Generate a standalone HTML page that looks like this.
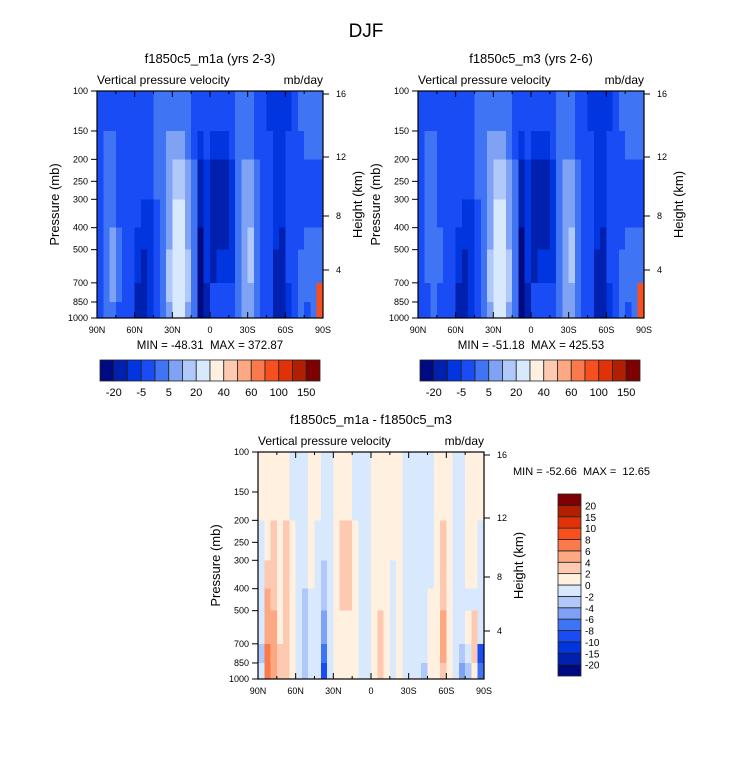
<!DOCTYPE html>
<html><head><meta charset="utf-8">
<style>
body{margin:0;background:#fff;}
svg{display:block;font-family:"Liberation Sans",sans-serif;}
.pre{white-space:pre;}
</style></head>
<body>
<svg id="fig" width="733" height="774" viewBox="0 0 733 774">
<text x="366" y="37" font-size="19" text-anchor="middle">DJF</text>
</svg>
<script>
// ---- data ----
const latLabels = ["90N","60N","30N","0","30S","60S","90S"];
const presTicks = [100,150,200,250,300,400,500,700,850,1000];
const presBands = [100,150,200,300,400,500,700,850,1000];
const heightTicks = [16,12,8,4];
const heightOffsets = [3,66,125,179];
const palette = ["#000a80","#0020b0","#0035e0","#1a4cf5","#3f74f5","#7fa2f5","#b0c8fa","#d8e8fd","#fff0e0","#fdc9b0","#fca882","#fb7a4c","#f84f1e","#e03208","#b02000","#7f0000"];
const absLabels = ["-20","-5","5","20","40","60","100","150"];
const diffLabels = ["20","15","10","8","6","4","2","0","-2","-4","-6","-8","-10","-15","-20"];
const fieldA = [
[3,3,3,3,3,3,3,3,3,4,4,4,4,4,4,3,3,3,3,3,3,3,4,4,4,3,3,2,2,2,2,3,4,4,4,4],
[3,4,4,3,3,3,3,3,3,4,4,5,5,5,4,3,2,3,2,2,2,3,4,4,4,3,3,3,2,2,3,3,3,4,4,4],
[3,4,4,3,3,3,3,3,3,4,4,5,6,6,5,4,1,2,1,1,1,2,4,5,5,4,3,3,2,2,3,3,3,3,3,3],
[3,4,4,3,3,3,3,2,2,3,4,5,7,7,5,4,1,2,1,1,1,2,4,5,5,4,3,3,2,2,3,3,3,3,3,3],
[3,4,5,4,3,3,2,2,2,3,4,5,7,7,5,4,0,2,1,1,1,2,4,5,6,4,3,3,2,1,3,3,3,4,4,4],
[3,4,5,4,3,3,2,1,2,3,4,6,7,7,6,4,0,2,1,2,2,2,4,5,6,4,3,3,1,1,3,3,4,4,4,4],
[3,4,5,4,3,3,1,1,2,3,4,6,7,7,6,4,0,1,3,3,3,3,4,5,5,4,3,3,1,1,2,3,4,4,4,12],
[3,4,4,3,3,3,1,1,2,3,4,5,7,7,5,4,0,1,3,3,3,3,4,5,5,4,3,3,1,1,2,3,4,3,4,12]];
const fieldB = [
[3,3,3,3,3,3,3,3,3,4,4,4,4,4,4,3,3,3,3,3,3,3,4,4,4,3,3,2,2,2,2,3,4,4,4,4],
[3,4,4,3,3,3,3,3,3,4,4,5,5,5,4,3,2,3,2,2,2,3,4,4,4,3,3,3,2,2,3,3,3,4,4,4],
[3,4,4,3,3,3,3,3,3,4,4,5,6,6,5,4,1,2,1,1,1,2,4,5,5,4,3,3,2,2,3,3,3,3,3,3],
[3,4,4,3,3,3,3,2,2,3,4,5,7,7,5,4,1,2,1,1,1,2,4,5,5,4,3,3,2,2,3,3,3,3,3,3],
[3,4,4,4,3,3,2,2,2,3,4,5,7,7,5,4,0,2,1,1,1,2,4,5,6,4,3,3,2,1,3,3,3,4,4,4],
[3,4,4,4,3,3,2,1,2,3,4,6,7,7,6,4,0,2,1,2,2,2,4,5,6,4,3,3,1,1,3,3,4,4,4,4],
[3,3,4,3,3,3,1,1,2,3,4,6,7,7,6,4,0,1,3,3,3,3,4,5,5,4,3,3,1,1,2,3,4,4,4,12],
[3,3,4,3,3,3,1,1,2,3,4,5,7,7,5,4,0,1,3,3,3,3,4,5,5,4,3,3,1,1,2,3,4,3,4,12]];
const fieldD = [
[8,8,8,8,8,7,7,7,8,8,7,7,8,8,8,7,7,7,8,8,8,8,8,7,7,7,7,7,8,8,8,7,7,8,8,8],
[8,8,8,8,8,7,7,7,8,8,7,7,8,8,8,7,7,7,8,8,8,8,8,7,7,7,7,7,8,8,8,7,7,8,8,8],
[7,8,9,8,9,8,7,7,8,7,7,7,8,9,9,8,7,7,8,8,8,8,8,7,7,7,7,7,8,9,8,7,7,8,8,7],
[7,9,9,8,9,8,7,7,8,7,6,7,8,9,9,8,7,7,8,8,8,7,8,7,7,7,7,7,8,9,8,7,7,8,8,7],
[7,10,9,8,9,8,7,6,7,7,6,7,8,9,9,8,7,7,8,8,8,7,8,7,7,7,7,8,8,9,8,7,7,7,7,7],
[7,10,10,8,9,8,7,6,7,7,5,7,8,8,8,8,7,7,8,9,8,7,8,7,7,7,7,8,8,10,8,7,7,8,9,7],
[6,11,10,9,9,8,7,6,7,7,4,7,8,8,8,8,7,7,8,9,8,7,8,7,7,7,7,8,8,10,8,7,6,7,9,3],
[7,11,10,9,9,8,7,6,7,7,3,7,8,8,8,8,7,7,8,9,8,7,8,7,7,7,6,8,8,9,8,7,5,6,8,4]];

const NS="http://www.w3.org/2000/svg";
const svg=document.getElementById('fig');
function mk(tag,attrs,parent){const e=document.createElementNS(NS,tag);for(const k in attrs)e.setAttribute(k,attrs[k]);(parent||svg).appendChild(e);return e;}
function txt(x,y,s,size,anchor,parent){const t=mk('text',{x:x,y:y,'font-size':size,'text-anchor':anchor||'middle'},parent);t.textContent=s;return t;}
const W=226,H=227;
function panel(ox,oy,field,title,name){
  const g=mk('g',{});
  
  
  const xS=lat=>ox+(90-lat)/180*W;
  const yS=p=>oy+Math.log10(p/100)*H;
  const nc=field[0].length;
  field.forEach((row,r)=>{
    row.forEach((v,c)=>{
      const lat0=90-c*180/nc, lat1=90-(c+1)*180/nc;
      const rc=mk('rect',{x:xS(lat0),y:yS(presBands[r]),width:xS(lat1)-xS(lat0)+0.5,height:yS(presBands[r+1])-yS(presBands[r])+0.5,fill:palette[v],'shape-rendering':'crispEdges'},g);
      
      
    });
  });
  const fr=mk('rect',{x:ox,y:oy,width:W,height:H,fill:'none',stroke:'#000','stroke-width':1.2},g);
  
  
  for(let i=0;i<=12;i++){const x=ox+i*W/12;const len=i%2==0?6:3;
    mk('line',{x1:x,y1:oy+H,x2:x,y2:oy+H-len,stroke:'#000'},g);
    mk('line',{x1:x,y1:oy,x2:x,y2:oy+len,stroke:'#000'},g);}
  latLabels.forEach((l,i)=>{const t=txt(ox+i*W/6,oy+H+15,l,9,'middle',g);
    
    });
  presTicks.forEach(p=>{const y=yS(p);mk('line',{x1:ox-6,y1:y,x2:ox,y2:y,stroke:'#000'},g);
    const t=txt(ox-9,y+3,String(p),9,'end',g);
    
    });
  heightTicks.forEach((h,i)=>{const y=oy+heightOffsets[i];mk('line',{x1:ox+W,y1:y,x2:ox+W+6,y2:y,stroke:'#000'},g);
    const t=txt(ox+W+13,y+3,String(h),9,'start',g);
    
    });
  const tt=txt(ox+W/2,oy-28,title,13,'middle',g);
  
  
  const vt=txt(ox,oy-7,'Vertical pressure velocity',12,'start',g);
  
  
  const ut=txt(ox+W,oy-7,'mb/day',12,'end',g);
  
  
  const yl=txt(0,0,'Pressure (mb)',13,'middle',g);
  yl.setAttribute('transform',`translate(${ox-38},${oy+H/2}) rotate(-90)`);
  
  
  const hl=txt(0,0,'Height (km)',13,'middle',g);
  hl.setAttribute('transform',`translate(${ox+W+39},${oy+H/2}) rotate(-90)`);
  
  
  return g;
}
function hbar(x0,y0,w,h,name){
  const g=mk('g',{});
  
  
  const bw=w/palette.length;
  palette.forEach((c,i)=>{const r=mk('rect',{x:x0+i*bw,y:y0,width:bw,height:h,fill:c,stroke:'#222','stroke-width':0.8},g);
    
    });
  absLabels.forEach((l,i)=>{const t=txt(x0+(2*i+1)*bw,y0+h+15,l,11,'middle',g);
    
    });
}
panel(97,91,fieldA,'f1850c5_m1a (yrs 2-3)','panel-m1a');
panel(418,91,fieldB,'f1850c5_m3 (yrs 2-6)','panel-m3');
panel(258,452,fieldD,'f1850c5_m1a - f1850c5_m3','panel-diff');
let m=txt(210,349,'MIN = -48.31  MAX = 372.87',11.5);m.setAttribute('class','pre');


m=txt(531,349,'MIN = -51.18  MAX = 425.53',11.5);m.setAttribute('class','pre');


m=txt(513,475,'MIN = -52.66  MAX =  12.65',11,'start');m.setAttribute('class','pre');


hbar(100,360,220,21,'colorbar-m1a');
hbar(420,360,220,21,'colorbar-m3');
(function(){
  const g=mk('g',{});
  
  
  const x0=558,y0=494,w=23,h=182,bh=h/palette.length;
  palette.forEach((c,i)=>{const r=mk('rect',{x:x0,y:y0+(palette.length-1-i)*bh,width:w,height:bh,fill:c,stroke:'#222','stroke-width':0.8},g);
    
    });
  diffLabels.forEach((l,i)=>{const t=txt(x0+w+4,y0+(i+1)*bh+4,l,10,'start',g);
    
    });
})();
</script>
</body></html>
